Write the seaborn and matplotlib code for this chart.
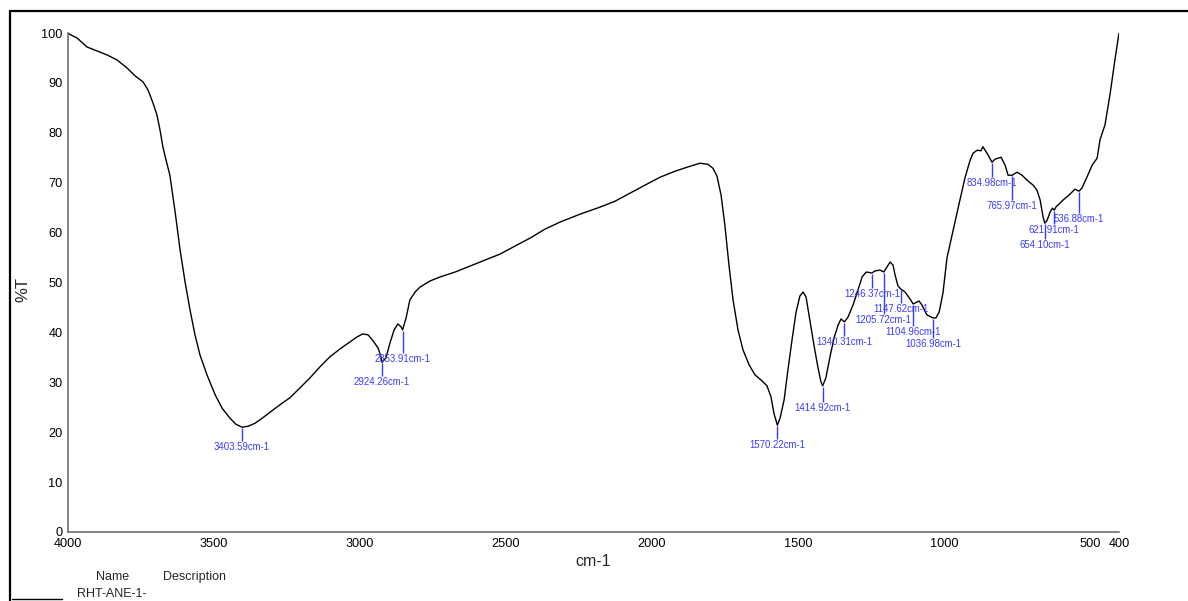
import matplotlib
matplotlib.use("Agg")
import matplotlib.pyplot as plt
from matplotlib.lines import Line2D
import seaborn as sns
import pandas as pd

# FT-IR spectrum of sample RHT-ANE-1- (wavenumber in cm-1, transmittance in %T)
wavenumber = [
    4000, 3993, 3969, 3935, 3901, 3866, 3832, 3798, 3770, 3743, 3726, 3709, 3695,
    3685, 3675, 3664, 3651, 3633, 3616, 3599, 3582, 3565, 3548, 3524, 3496, 3472,
    3445, 3425, 3403.59, 3383, 3359, 3335, 3308, 3274, 3240, 3205, 3171, 3137, 3103,
    3068, 3034, 3010, 2990, 2972, 2955, 2938, 2928, 2924.26, 2911, 2897, 2883, 2870,
    2859, 2853.91, 2842, 2829, 2811, 2794, 2760, 2726, 2674, 2623, 2572, 2520, 2469,
    2417, 2366, 2315, 2246, 2178, 2126, 2075, 2024, 1972, 1921, 1869, 1835, 1808,
    1791, 1777, 1763, 1750, 1736, 1722, 1705, 1688, 1667, 1647, 1623, 1606, 1592,
    1582, 1570.22, 1561, 1547, 1534, 1520, 1506, 1493, 1482, 1472, 1459, 1445, 1431,
    1421, 1414.92, 1404, 1390, 1376, 1362, 1352, 1340.31, 1328, 1311, 1294, 1280,
    1266, 1246.37, 1236, 1219, 1205.72, 1195, 1184, 1174, 1167, 1157, 1147.62, 1133,
    1116, 1104.96, 1092, 1085, 1075, 1058, 1036.98, 1027, 1016, 1003, 989, 968, 945,
    927, 910, 900, 886, 873, 866, 852, 834.98, 825, 804, 790, 780, 765.97, 749, 732,
    715, 694, 681, 670, 660, 654.10, 646, 636, 628, 621.91, 614, 609, 592, 568, 551,
    536.88, 527, 510, 492, 475, 465, 448, 431, 414, 400,
]
transmittance = [
    100.0, 99.7, 99.0, 97.2, 96.4, 95.6, 94.6, 93.0, 91.4, 90.2, 88.6, 86.0, 83.5,
    80.6, 77.2, 74.5, 71.5, 64.1, 56.5, 50.1, 44.5, 39.5, 35.5, 31.5, 27.5, 24.8,
    22.8, 21.6, 21.0, 21.2, 21.8, 22.8, 24.0, 25.5, 26.9, 28.9, 30.9, 33.1, 35.1,
    36.7, 38.1, 39.1, 39.7, 39.5, 38.3, 36.9, 35.1, 34.0, 34.9, 37.9, 40.5, 41.7,
    41.1, 40.5, 42.9, 46.5, 48.1, 49.1, 50.3, 51.1, 52.1, 53.3, 54.5, 55.7, 57.3,
    58.9, 60.7, 62.1, 63.7, 65.1, 66.3, 67.9, 69.5, 71.1, 72.3, 73.3, 73.9, 73.7,
    72.9, 71.3, 67.5, 61.5, 53.5, 46.5, 40.5, 36.5, 33.5, 31.5, 30.3, 29.3, 27.1,
    23.8, 21.4, 22.8, 26.5, 32.5, 38.5, 44.1, 47.3, 48.1, 47.1, 42.5, 37.5, 32.9,
    30.1, 29.3, 30.9, 35.1, 38.9, 41.5, 42.7, 42.1, 43.1, 45.5, 48.5, 51.1,
    52.1, 51.9, 52.3, 52.5, 52.1, 53.1, 54.1, 53.5, 51.5, 49.3, 48.7, 48.1,
    46.7, 45.7, 46.1, 46.3, 45.5, 43.5, 42.9, 42.9, 44.1, 47.9, 55.0, 60.5, 66.5,
    71.1, 74.5, 75.9, 76.5, 76.4, 77.2, 75.9, 74.1, 74.7, 75.1, 73.5, 71.5, 71.5, 72.1, 71.5,
    70.5, 69.5, 68.5, 66.5, 63.1, 61.9, 62.5, 64.1, 64.9, 64.5, 65.3, 65.5, 66.5, 67.7, 68.7,
    68.3, 68.9, 71.1, 73.5, 74.9, 78.6, 81.6, 87.6, 94.6, 100.0,
]

# Picked peaks
peak_wavenumbers = [3403.59, 2924.26, 2853.91, 1570.22, 1414.92, 1340.31, 1246.37,
                    1205.72, 1147.62, 1104.96, 1036.98, 834.98, 765.97, 654.10,
                    621.91, 536.88]
peak_transmittance = [21.0, 34.0, 40.5, 21.4, 29.3, 42.1, 51.9, 52.1, 48.7, 45.7,
                      42.9, 74.1, 71.5, 61.9, 64.5, 68.3]
# length of each peak marker below the curve, in %T
marker_drop = [2.6, 2.6, 4.4, 2.6, 3.0, 2.6, 2.8, 8.2, 2.6, 4.2, 3.8, 2.8, 4.8,
               3.0, 2.6, 4.2]

x_ticks = [4000, 3500, 3000, 2500, 2000, 1500, 1000, 500, 400]
y_ticks = [0, 10, 20, 30, 40, 50, 60, 70, 80, 90, 100]

sns.set_style("white")
plt.rcParams["font.family"] = ["Liberation Sans", "DejaVu Sans"]

W, H = 1188, 601
fig = plt.figure(figsize=(W / 100, H / 100), dpi=100)
ax = fig.add_axes([68 / W, 1 - 532 / H, (1119 - 68) / W, (532 - 33) / H])

spectrum = pd.DataFrame({"wavenumber": wavenumber, "T": transmittance})
sns.lineplot(data=spectrum, x="wavenumber", y="T", sort=False, estimator=None,
             color="black", linewidth=1.0, ax=ax)

ax.set_xlim(4000, 400)
ax.set_ylim(0, 100)
ax.set_xticks(x_ticks)
ax.set_xticklabels([str(t) for t in x_ticks])
ax.set_yticks(y_ticks)
ax.set_yticklabels([str(t) for t in y_ticks])
ax.tick_params(axis="both", direction="out", length=3, width=1, pad=1,
               labelsize=9.2, colors="#555555", labelcolor="black")

for side in ("top", "right"):
    ax.spines[side].set_visible(False)
for side in ("left", "bottom"):
    ax.spines[side].set_color("#6e6e6e")
    ax.spines[side].set_linewidth(1.2)

ax.set_xlabel("cm-1", fontsize=11.5)
ax.xaxis.label.set_va("center")
ax.xaxis.set_label_coords((593 - 68) / (1119 - 68), -(562 - 532) / (532 - 33))
ax.set_ylabel("%T", fontsize=12)
ax.yaxis.label.set_va("center")
ax.yaxis.set_label_coords(-(68 - 23) / (1119 - 68), (532 - 290) / (532 - 33))

blue = "#3a3aff"
for wn, t, drop in zip(peak_wavenumbers, peak_transmittance, marker_drop):
    top = t - 0.2
    bottom = top - drop
    ax.vlines(wn, bottom, top, color=blue, linewidth=1.0)
    ax.text(wn, bottom - 1.2, f"{wn:.2f}cm-1", color=blue, fontsize=6.9,
            ha="center", va="center")

# Report frame and sample list
fig.add_artist(Line2D([10 / W, 1.0], [1 - 11 / H, 1 - 11 / H], color="black",
                      linewidth=1.6, transform=fig.transFigure))
fig.add_artist(Line2D([10 / W, 10 / W], [0.0, 1 - 11 / H], color="black",
                      linewidth=1.6, transform=fig.transFigure))
fig.add_artist(Line2D([12 / W, 62 / W], [1 - 599 / H, 1 - 599 / H], color="black",
                      linewidth=1.0, transform=fig.transFigure))
fig.text(113 / W, 1 - 577 / H, "Name", fontsize=9, ha="center", va="center")
fig.text(195 / W, 1 - 577 / H, "Description", fontsize=9, ha="center", va="center")
fig.text(77 / W, 1 - 594 / H, "RHT-ANE-1-", fontsize=9, ha="left", va="center")

fig.savefig("out.png", dpi=100)
